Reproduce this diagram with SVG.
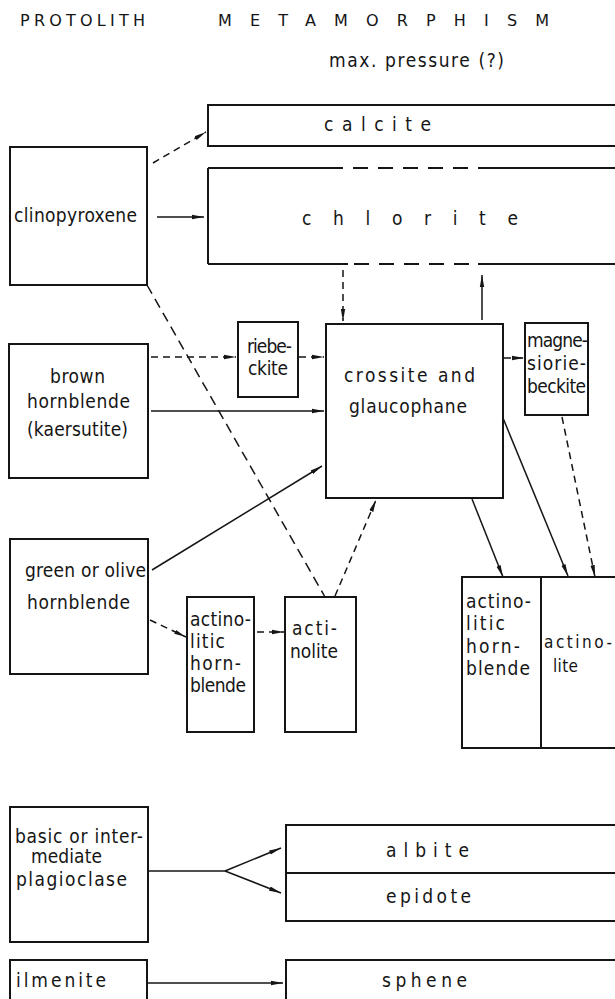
<svg xmlns="http://www.w3.org/2000/svg" width="615" height="999" viewBox="0 0 615 999">
<defs>
<style>
.box{fill:none;stroke:#151515;stroke-width:2}
.ln{fill:none;stroke:#151515;stroke-width:1.5}
.ds{stroke-dasharray:7 5}
.ld{stroke-dasharray:10 6}
.dsb{stroke-dasharray:15 10}
text{font-family:"DejaVu Sans Condensed","DejaVu Sans","Liberation Sans",sans-serif;font-stretch:condensed;font-size:19px;fill:#151515}
.h{font-family:"DejaVu Sans","Liberation Sans",sans-serif;font-stretch:normal;font-size:16px}
.s{font-size:17px}
.arr{marker-end:url(#ah)}
</style>
<marker id="ah" viewBox="0 0 12 6" refX="12" refY="3" markerWidth="12" markerHeight="6" markerUnits="userSpaceOnUse" orient="auto">
<path d="M0,0.8 L12,3 L0,5.2 z" fill="#151515"/>
</marker>
</defs>
<rect width="615" height="999" fill="#fff"/>
<g id="titles">
<text class="h" x="20" y="26" textLength="125" lengthAdjust="spacing">PROTOLITH</text>
<text class="h" x="218" y="26" textLength="331" lengthAdjust="spacing">METAMORPHISM</text>
<text x="329" y="67" textLength="175" lengthAdjust="spacing">max. pressure (?)</text>
</g>
<g id="calcite">
<rect class="box" x="208" y="105" width="420" height="41"/>
<text x="324" y="131" textLength="107" lengthAdjust="spacing">calcite</text>
</g>
<g id="chlorite">
<path class="box" d="M208,168 V264 M208,168 H343 M478,168 H620 M208,264 H348 M478,264 H620"/>
<path class="box dsb" d="M353,168 H478 M354,264 H478"/>
<text x="302" y="225" textLength="216" lengthAdjust="spacing">chlorite</text>
</g>
<g id="clinopyroxene">
<rect class="box" x="10" y="147" width="137" height="138"/>
<text x="14" y="222" textLength="123" lengthAdjust="spacing">clinopyroxene</text>
</g>
<g id="brown-hornblende">
<rect class="box" x="9" y="344" width="139" height="134"/>
<text x="50" y="383" textLength="55" lengthAdjust="spacing">brown</text>
<text x="27" y="408" textLength="103" lengthAdjust="spacing">hornblende</text>
<text x="27" y="436" textLength="101" lengthAdjust="spacing">(kaersutite)</text>
</g>
<g id="green-hornblende">
<rect class="box" x="10" y="539" width="138" height="135"/>
<text x="25" y="577" textLength="121" lengthAdjust="spacing">green or olive</text>
<text x="27" y="609" textLength="103" lengthAdjust="spacing">hornblende</text>
</g>
<g id="riebeckite">
<rect class="box" x="238" y="322" width="60" height="75"/>
<text x="247" y="353" textLength="45" lengthAdjust="spacing">riebe-</text>
<text x="248" y="375" textLength="40" lengthAdjust="spacing">ckite</text>
</g>
<g id="crossite-glaucophane">
<rect class="box" x="326" y="324" width="177" height="174"/>
<text x="344" y="382" textLength="131" lengthAdjust="spacing">crossite  and</text>
<text x="349" y="413" textLength="118" lengthAdjust="spacing">glaucophane</text>
</g>
<g id="magnesioriebeckite">
<rect class="box" x="525" y="323" width="63" height="92"/>
<text x="527" y="347" textLength="61" lengthAdjust="spacing">magne-</text>
<text x="527" y="370" textLength="59" lengthAdjust="spacing">siorie-</text>
<text x="527" y="393" textLength="59" lengthAdjust="spacing">beckite</text>
</g>
<g id="actinolitic-hornblende-1">
<rect class="box" x="187" y="597" width="67" height="135"/>
<text x="190" y="626" textLength="61" lengthAdjust="spacing">actino-</text>
<text x="190" y="648" textLength="35" lengthAdjust="spacing">litic</text>
<text x="190" y="670" textLength="51" lengthAdjust="spacing">horn-</text>
<text x="190" y="692" textLength="56" lengthAdjust="spacing">blende</text>
</g>
<g id="actinolite-1">
<rect class="box" x="285" y="597" width="71" height="135"/>
<text x="292" y="635" textLength="45" lengthAdjust="spacing">acti-</text>
<text x="290" y="658" textLength="48" lengthAdjust="spacing">nolite</text>
</g>
<g id="actinolitic-hornblende-2">
<rect class="box" x="462" y="577" width="79" height="171"/>
<text x="466" y="608" textLength="65" lengthAdjust="spacing">actino-</text>
<text x="466" y="630" textLength="39" lengthAdjust="spacing">litic</text>
<text x="466" y="653" textLength="54" lengthAdjust="spacing">horn-</text>
<text x="466" y="675" textLength="64" lengthAdjust="spacing">blende</text>
</g>
<g id="actinolite-2">
<rect class="box" x="541" y="577" width="80" height="171"/>
<text class="s" x="544" y="648" textLength="68" lengthAdjust="spacing">actino-</text>
<text class="s" x="553" y="672" textLength="25" lengthAdjust="spacing">lite</text>
</g>
<g id="plagioclase">
<rect class="box" x="10" y="807" width="138" height="135"/>
<text x="15" y="843" textLength="128" lengthAdjust="spacing">basic or inter-</text>
<text x="31" y="863" textLength="71" lengthAdjust="spacing">mediate</text>
<text x="16" y="886" textLength="111" lengthAdjust="spacing">plagioclase</text>
</g>
<g id="albite">
<rect class="box" x="286" y="825" width="335" height="48"/>
<text x="386" y="857" textLength="83" lengthAdjust="spacing">albite</text>
</g>
<g id="epidote">
<rect class="box" x="286" y="873" width="335" height="48"/>
<text x="386" y="903" textLength="85" lengthAdjust="spacing">epidote</text>
</g>
<g id="ilmenite">
<rect class="box" x="10" y="960" width="137" height="45"/>
<text x="16" y="987" textLength="90" lengthAdjust="spacing">ilmenite</text>
</g>
<g id="sphene">
<rect class="box" x="286" y="960" width="335" height="45"/>
<text x="382" y="987" textLength="85" lengthAdjust="spacing">sphene</text>
</g>
<g id="connectors">
<path class="ln ds arr" d="M153,163 L206,132"/>
<path class="ln arr" d="M157,217 H204"/>
<path class="ln ds arr" d="M343,270 V321"/>
<path class="ln arr" d="M482,320 V275"/>
<path class="ln ds arr" d="M151,357 H236"/>
<path class="ln ds arr" d="M299,357 H324"/>
<path class="ln ds arr" d="M504,358 H524"/>
<path class="ln arr" d="M151,411 H324"/>
<path class="ln ld" d="M147,285 L325,597"/>
<path class="ln arr" d="M152,570 L322,466"/>
<path class="ln ds arr" d="M150,620 L186,637"/>
<path class="ln ds arr" d="M257,632 H284"/>
<path class="ln ds arr" d="M335,596 L376,500"/>
<path class="ln arr" d="M472,499 L503,577"/>
<path class="ln arr" d="M503,418 L568,576"/>
<path class="ln ds arr" d="M562,417 L595,577"/>
<path class="ln" d="M149,871 H225"/>
<path class="ln arr" d="M225,871 L281,848"/>
<path class="ln arr" d="M225,871 L281,893"/>
<path class="ln arr" d="M148,983 H283"/>
</g>
</svg>
